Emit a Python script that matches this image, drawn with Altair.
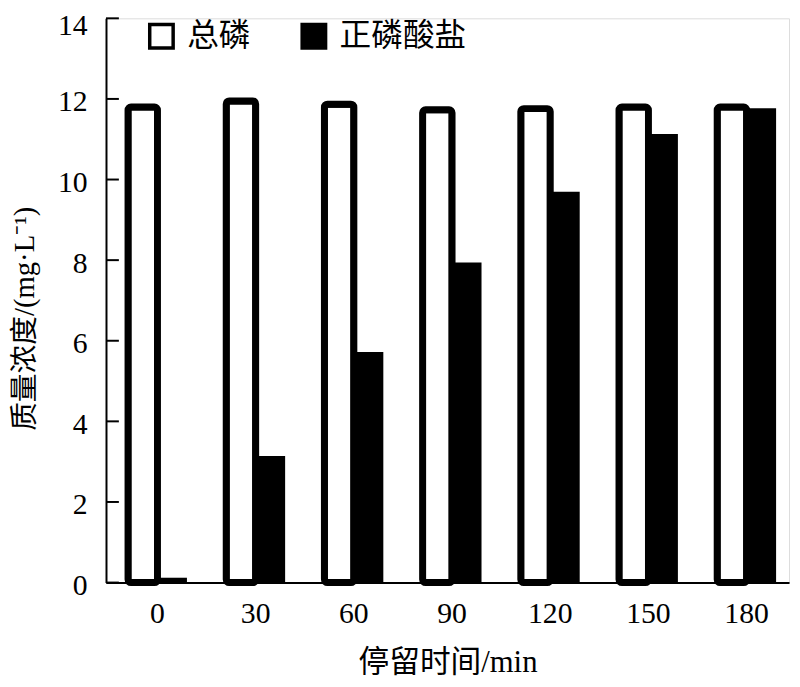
import altair as alt
import pandas as pd

times = ["0", "30", "60", "90", "120", "150", "180"]
tp = [11.8, 11.95, 11.87, 11.73, 11.76, 11.8, 11.8]
ortho = [0.12, 3.14, 5.72, 7.94, 9.70, 11.13, 11.77]
series = ["总磷", "正磷酸盐"]
y_ticks = [0, 2, 4, 6, 8, 10, 12, 14]

rows = []
for t, a, b in zip(times, tp, ortho):
    rows.append({"time": t, "series": series[0], "value": a})
    rows.append({"time": t, "series": series[1], "value": b})
df = pd.DataFrame(rows)
ticks_df = pd.DataFrame({"v": y_ticks})

W, H = 690, 570
FONT = "Liberation Serif"
MIX = "Liberation Serif, Noto Sans CJK SC"
CJK = "Noto Sans CJK SC"

x_enc = alt.X("time:N", sort=times,
              scale=alt.Scale(paddingInner=0.4, paddingOuter=0.178, align=0.63),
              axis=alt.Axis(title="停留时间/min", labelAngle=0, tickSize=0,
                            labelFontSize=30, labelFont=FONT, labelPadding=16,
                            titleFontSize=31, titleFont=MIX, titleFontWeight="normal",
                            titlePadding=20, domainColor="black", domainWidth=2,
                            labelColor="black", titleColor="black"))
xo_enc = alt.XOffset("series:N", scale=alt.Scale(domain=series, paddingInner=0, paddingOuter=0))
y_enc = alt.Y("value:Q",
              scale=alt.Scale(domain=[0, 14], nice=False),
              axis=alt.Axis(title="质量浓度/(mg·L⁻¹)", values=y_ticks, tickSize=0,
                            labelFontSize=30, labelFont=FONT, labelPadding=19,
                            labelOffset={"condition": {"test": "datum.value === 14", "value": 7}, "value": 3},
                            titleFontSize=29, titleFont=MIX, titleFontWeight="normal",
                            titleX=-67, titleY=303, titleAngle=270,
                            titleBaseline="bottom", titleAlign="center",
                            domainColor="black", domainWidth=2,
                            grid=False, labelColor="black", titleColor="black"))
fill_enc = alt.Fill("series:N",
                    scale=alt.Scale(domain=series, range=["white", "black"]),
                    legend=alt.Legend(title=None, orient="none", legendX=40, legendY=2,
                                      direction="horizontal", symbolType="square",
                                      symbolSize=560, symbolStrokeColor="black",
                                      symbolStrokeWidth=3.5, labelFontSize=32,
                                      labelFont=CJK, labelColor="black",
                                      columnPadding=44, labelOffset=10, padding=0,
                                      symbolFillColor="white"))

tp_layer = alt.Chart(df).transform_filter(alt.datum.series == series[0]).mark_bar(
    stroke="black", strokeWidth=7, strokeJoin="round", cornerRadius=3
).encode(x=x_enc, xOffset=xo_enc, y=y_enc, fill=fill_enc)

or_layer = alt.Chart(df).transform_filter(alt.datum.series == series[1]).mark_bar(
    stroke=None
).encode(x=x_enc, xOffset=xo_enc, y=y_enc, fill=fill_enc)

tick_layer = alt.Chart(ticks_df).mark_rule(color="black", strokeWidth=2).encode(
    y=alt.Y("v:Q", scale=alt.Scale(domain=[0, 14], nice=False)),
    x=alt.value(0), x2=alt.value(13)
)

chart = alt.layer(tp_layer, or_layer, tick_layer).properties(
    width=W, height=H,
    autosize=alt.AutoSizeParams(type="none"),
    padding={"left": 99, "top": 7, "right": 3, "bottom": 95},
).configure_view(stroke=None).configure(background="white")

chart.save("out.html", embed_options={"renderer": "svg", "actions": False})
